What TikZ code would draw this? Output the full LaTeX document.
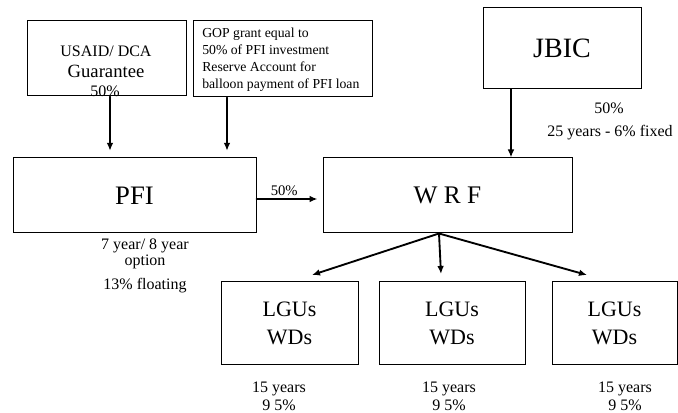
\documentclass[tikz,border=0pt]{standalone}
\usepackage{fontspec}
\setmainfont{Liberation Serif}
\usetikzlibrary{arrows.meta}

\begin{document}
\begin{tikzpicture}[x=0.75pt, y=-0.75pt,
                    >={Latex[length=6pt,width=5pt]}, line cap=round,
                    box/.style={draw, line width=0.75pt, inner sep=0pt, align=center},
                    bsize/.style 2 args={minimum width=#1*0.75pt, minimum height=#2*0.75pt},
                    arr/.style={->, line width=1.4pt},
                    note/.style={inner sep=0pt, align=center, font=\fontsize{12}{13.5}\selectfont}
                   ]

    \useasboundingbox (0,0) rectangle (678,413);

    % sources
    \node [box, bsize={159}{75}] (usaid) at (106.5,58.5) {};
    \node [note, font=\fontsize{12}{14}\selectfont] (usaidname) at (106,51) {USAID/ DCA};
    \node [note, font=\fontsize{14}{16}\selectfont] (usaidgtee) at (106,71) {Guarantee};
    \node [note, anchor=base] (usaidpct) at (105,96.5) {50\%};

    \node [box, bsize={179}{76}] (gop) at (282.5,59) {};
    \node [inner sep=0pt, anchor=west, align=left, font=\fontsize{10.3}{12.75}\selectfont]
        (goptext) at (202,59.5)
        {GOP grant equal to\\50\% of PFI investment\\Reserve Account for\\balloon payment of PFI loan};

    \node [box, bsize={158}{81}, font=\fontsize{21}{24}\selectfont] (jbic) at (562,48) {JBIC};
    \node [note] (jbicpct) at (609,108) {50\%};
    \node [note] (jbicterm) at (610,133) {25 years - 6\% fixed};

    % middle row
    \node [box, bsize={243}{75}, font=\fontsize{20}{24}\selectfont] (pfi) at (134.5,195.5) {PFI};
    \node [box, bsize={249}{75}, font=\fontsize{19}{24}\selectfont] (wrf) at (447.5,195.5) {W R F};
    \node [note, font=\fontsize{12}{10.5}\selectfont] (pfiterm) at (145,254) {7 year/ 8 year\\option};
    \node [note] (pfirate) at (145,286) {13\% floating};

    % borrowers
    \foreach \n/\cx/\w/\tx in {1/289.5/137/279, 2/452/146/449, 3/614.5/125/625}{
        \node [box, bsize={\w}{82}, font=\fontsize{16.5}{21}\selectfont] (lgu\n) at (\cx,323) {LGUs\\WDs};
        \node [note] (lguterm\n) at (\tx,396) {15 years\\9 5\%};
    }

    \draw [arr, shorten >=5pt] (usaid.south -| 110,0) -- (pfi.north -| 110,0);
    \draw [arr, shorten >=5pt] (gop.south -| 227,0) -- (pfi.north -| 227,0);
    \draw [arr] (jbic.south -| 511,0) -- (wrf.north -| 511,0);
    \draw [arr, shorten >=3.75pt] (pfi.east |- 0,199) -- (wrf.west |- 0,199)
        node [pos=0.42, above=1.5pt, inner sep=0pt, font=\fontsize{11}{13}\selectfont] (flowpct) {50\%};

    \coordinate (fork) at (wrf.south -| 439,0);
    \coordinate (tip1) at (312,275);
    \coordinate (tip2) at (441,274);
    \coordinate (tip3) at (587,275);
    \foreach \n in {1,2,3}
        \draw [arr] (fork) -- (tip\n);

\end{tikzpicture}
\end{document}
